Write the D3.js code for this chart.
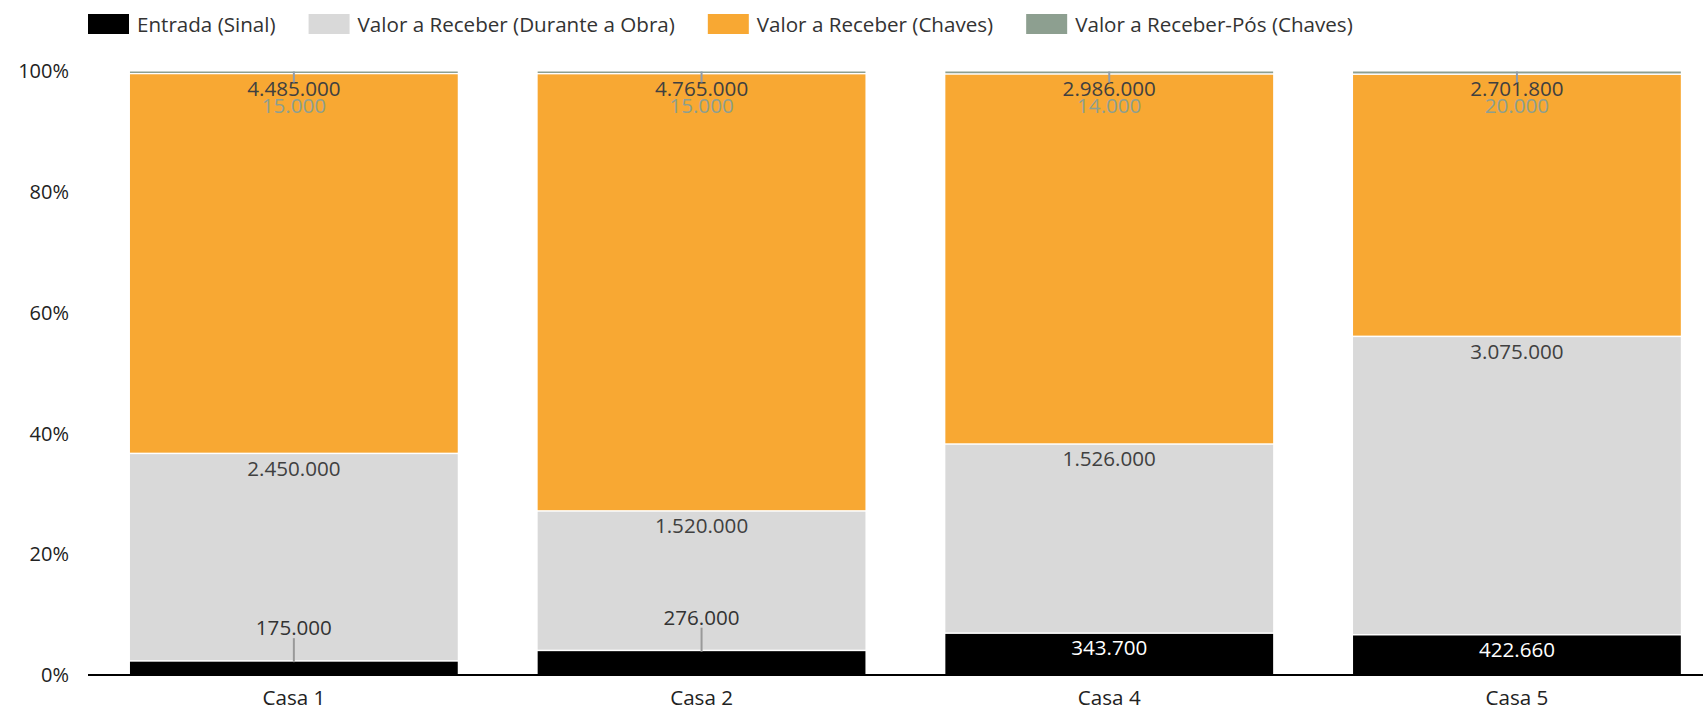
<!DOCTYPE html>
<html>
<head>
<meta charset="utf-8">
<script src="https://cdn.jsdelivr.net/npm/d3@7"></script>
<style>
  body { margin: 0; background: #fff; }
  svg { display: block; font-family: "Open Sans", "Noto Sans", sans-serif; }
</style>
</head>
<body>
<div id="chart"></div>
<script>
// Chart data
const categories   = ["Casa 1", "Casa 2", "Casa 4", "Casa 5"];
const entrada      = [175000, 276000, 343700, 422660];
const duranteObra  = [2450000, 1520000, 1526000, 3075000];
const chaves       = [4485000, 4765000, 2986000, 2701800];
const posChaves    = [15000, 15000, 14000, 20000];
const seriesNames  = ["Entrada (Sinal)", "Valor a Receber (Durante a Obra)", "Valor a Receber (Chaves)", "Valor a Receber-Pós (Chaves)"];
const seriesColors = ["#000000", "#d9d9d9", "#f8a833", "#8d9f90"];
const yTicks       = [0, 0.2, 0.4, 0.6, 0.8, 1];

const width = 1703, height = 708;
const fontSize = 20.6;      // legend, bar labels, categories
const tickFontSize = 20;
const gap = 1.5;            // white gap between stacked segments
const leaderColor = "#999999";

const svg = d3.select("#chart")
  .append("svg")
  .attr("width", width)
  .attr("height", height);

// brazilian number format 1.234.567
const ptBR = d3.formatLocale({ decimal: ",", thousands: ".", grouping: [3], currency: ["R$ ", ""] });
const fmt = ptBR.format(",d");

// table for the stack
const keys = ["entrada", "durante", "chaves", "pos"];
const table = categories.map(function(c, i) {
  return { cat: c, entrada: entrada[i], durante: duranteObra[i], chaves: chaves[i], pos: posChaves[i] };
});
const stacked = d3.stack().keys(keys).offset(d3.stackOffsetExpand)(table);

const x = d3.scaleBand()
  .domain(categories)
  .range([89.2, 1721.6])
  .paddingInner(0.196)
  .paddingOuter(0.1);

const y = d3.scaleLinear()
  .domain([0, 1])
  .range([675, 71.5]);

// bars
const layers = svg.append("g").attr("class", "bars")
  .selectAll("g")
  .data(stacked)
  .enter().append("g")
    .attr("fill", function(d, i) { return seriesColors[i]; });

layers.selectAll("rect")
  .data(function(d) { return d.map(function(v) { v.key = d.key; v.idx = d.index; return v; }); })
  .enter().append("rect")
    .attr("x", function(d) { return x(d.data.cat); })
    .attr("width", x.bandwidth())
    .attr("y", function(d) {
      return d.idx === keys.length - 1 ? y(d[1]) : y(d[1]) + gap;
    })
    .attr("height", function(d) {
      const h = y(d[0]) - y(d[1]);
      return d.idx === keys.length - 1 ? Math.max(h, gap) : Math.max(h - gap, 0);
    });

// value labels
const labels = svg.append("g").attr("class", "labels")
  .style("font-size", fontSize + "px");

stacked.forEach(function(layer, i) {
  layer.forEach(function(d) {
    const cx = x(d.data.cat) + x.bandwidth() / 2;
    const top = y(d[1]);
    const h = y(d[0]) - y(d[1]);
    const txt = fmt(d.data[layer.key]);
    let ly, color;

    if (i === 0 && h < 30) {
      // small first segment: leader line going up
      labels.append("line")
        .attr("x1", cx).attr("x2", cx)
        .attr("y1", top + 2).attr("y2", top - 22)
        .attr("stroke", leaderColor).attr("stroke-width", 2);
      ly = top - 33; color = "#333333";
    } else if (i === keys.length - 1) {
      // tiny top segment: leader going down
      labels.append("line")
        .attr("x1", cx).attr("x2", cx)
        .attr("y1", top).attr("y2", top + 11)
        .attr("stroke", "#8f9cab").attr("stroke-width", 2);
      ly = top + 33; color = seriesColors[i];
    } else {
      ly = top + 15;
      color = i === 0 ? "#ffffff" : "#404040";
    }

    labels.append("text")
      .attr("x", cx)
      .attr("y", ly)
      .attr("text-anchor", "middle")
      .attr("dominant-baseline", "central")
      .attr("fill", color)
      .text(txt);
  });
});

// y axis
const yAxis = svg.append("g")
  .attr("transform", "translate(69,0)")
  .call(d3.axisLeft(y).tickValues(yTicks).tickFormat(d3.format(".0%")).tickSize(0).tickPadding(0));
yAxis.select(".domain").remove();
yAxis.selectAll("text")
  .style("font-size", tickFontSize + "px")
  .style("font-family", "'Open Sans', sans-serif")
  .attr("fill", "#222");

// x axis
const xAxis = svg.append("g")
  .attr("transform", "translate(0," + y(0) + ")")
  .call(d3.axisBottom(x).tickSize(0).tickPadding(15));
xAxis.select(".domain").remove();
xAxis.selectAll("text")
  .style("font-size", fontSize + "px")
  .style("font-family", "'Open Sans', sans-serif")
  .attr("fill", "#222");
xAxis.append("line")
  .attr("x1", 88).attr("x2", width)
  .attr("y1", 0).attr("y2", 0)
  .attr("stroke", "#000").attr("stroke-width", 2);

// legend
const legend = svg.append("g").attr("class", "legend")
  .attr("transform", "translate(88,14)");
let lx = 0;
seriesNames.forEach(function(name, i) {
  legend.append("rect")
    .attr("x", lx).attr("y", 0)
    .attr("width", 41).attr("height", 20)
    .attr("fill", seriesColors[i]);
  const t = legend.append("text")
    .attr("x", lx + 49)
    .attr("y", 10)
    .attr("dominant-baseline", "central")
    .style("font-size", fontSize + "px")
    .attr("fill", "#333")
    .text(name);
  lx += 49 + t.node().getComputedTextLength() + 33;
});
</script>
</body>
</html>
